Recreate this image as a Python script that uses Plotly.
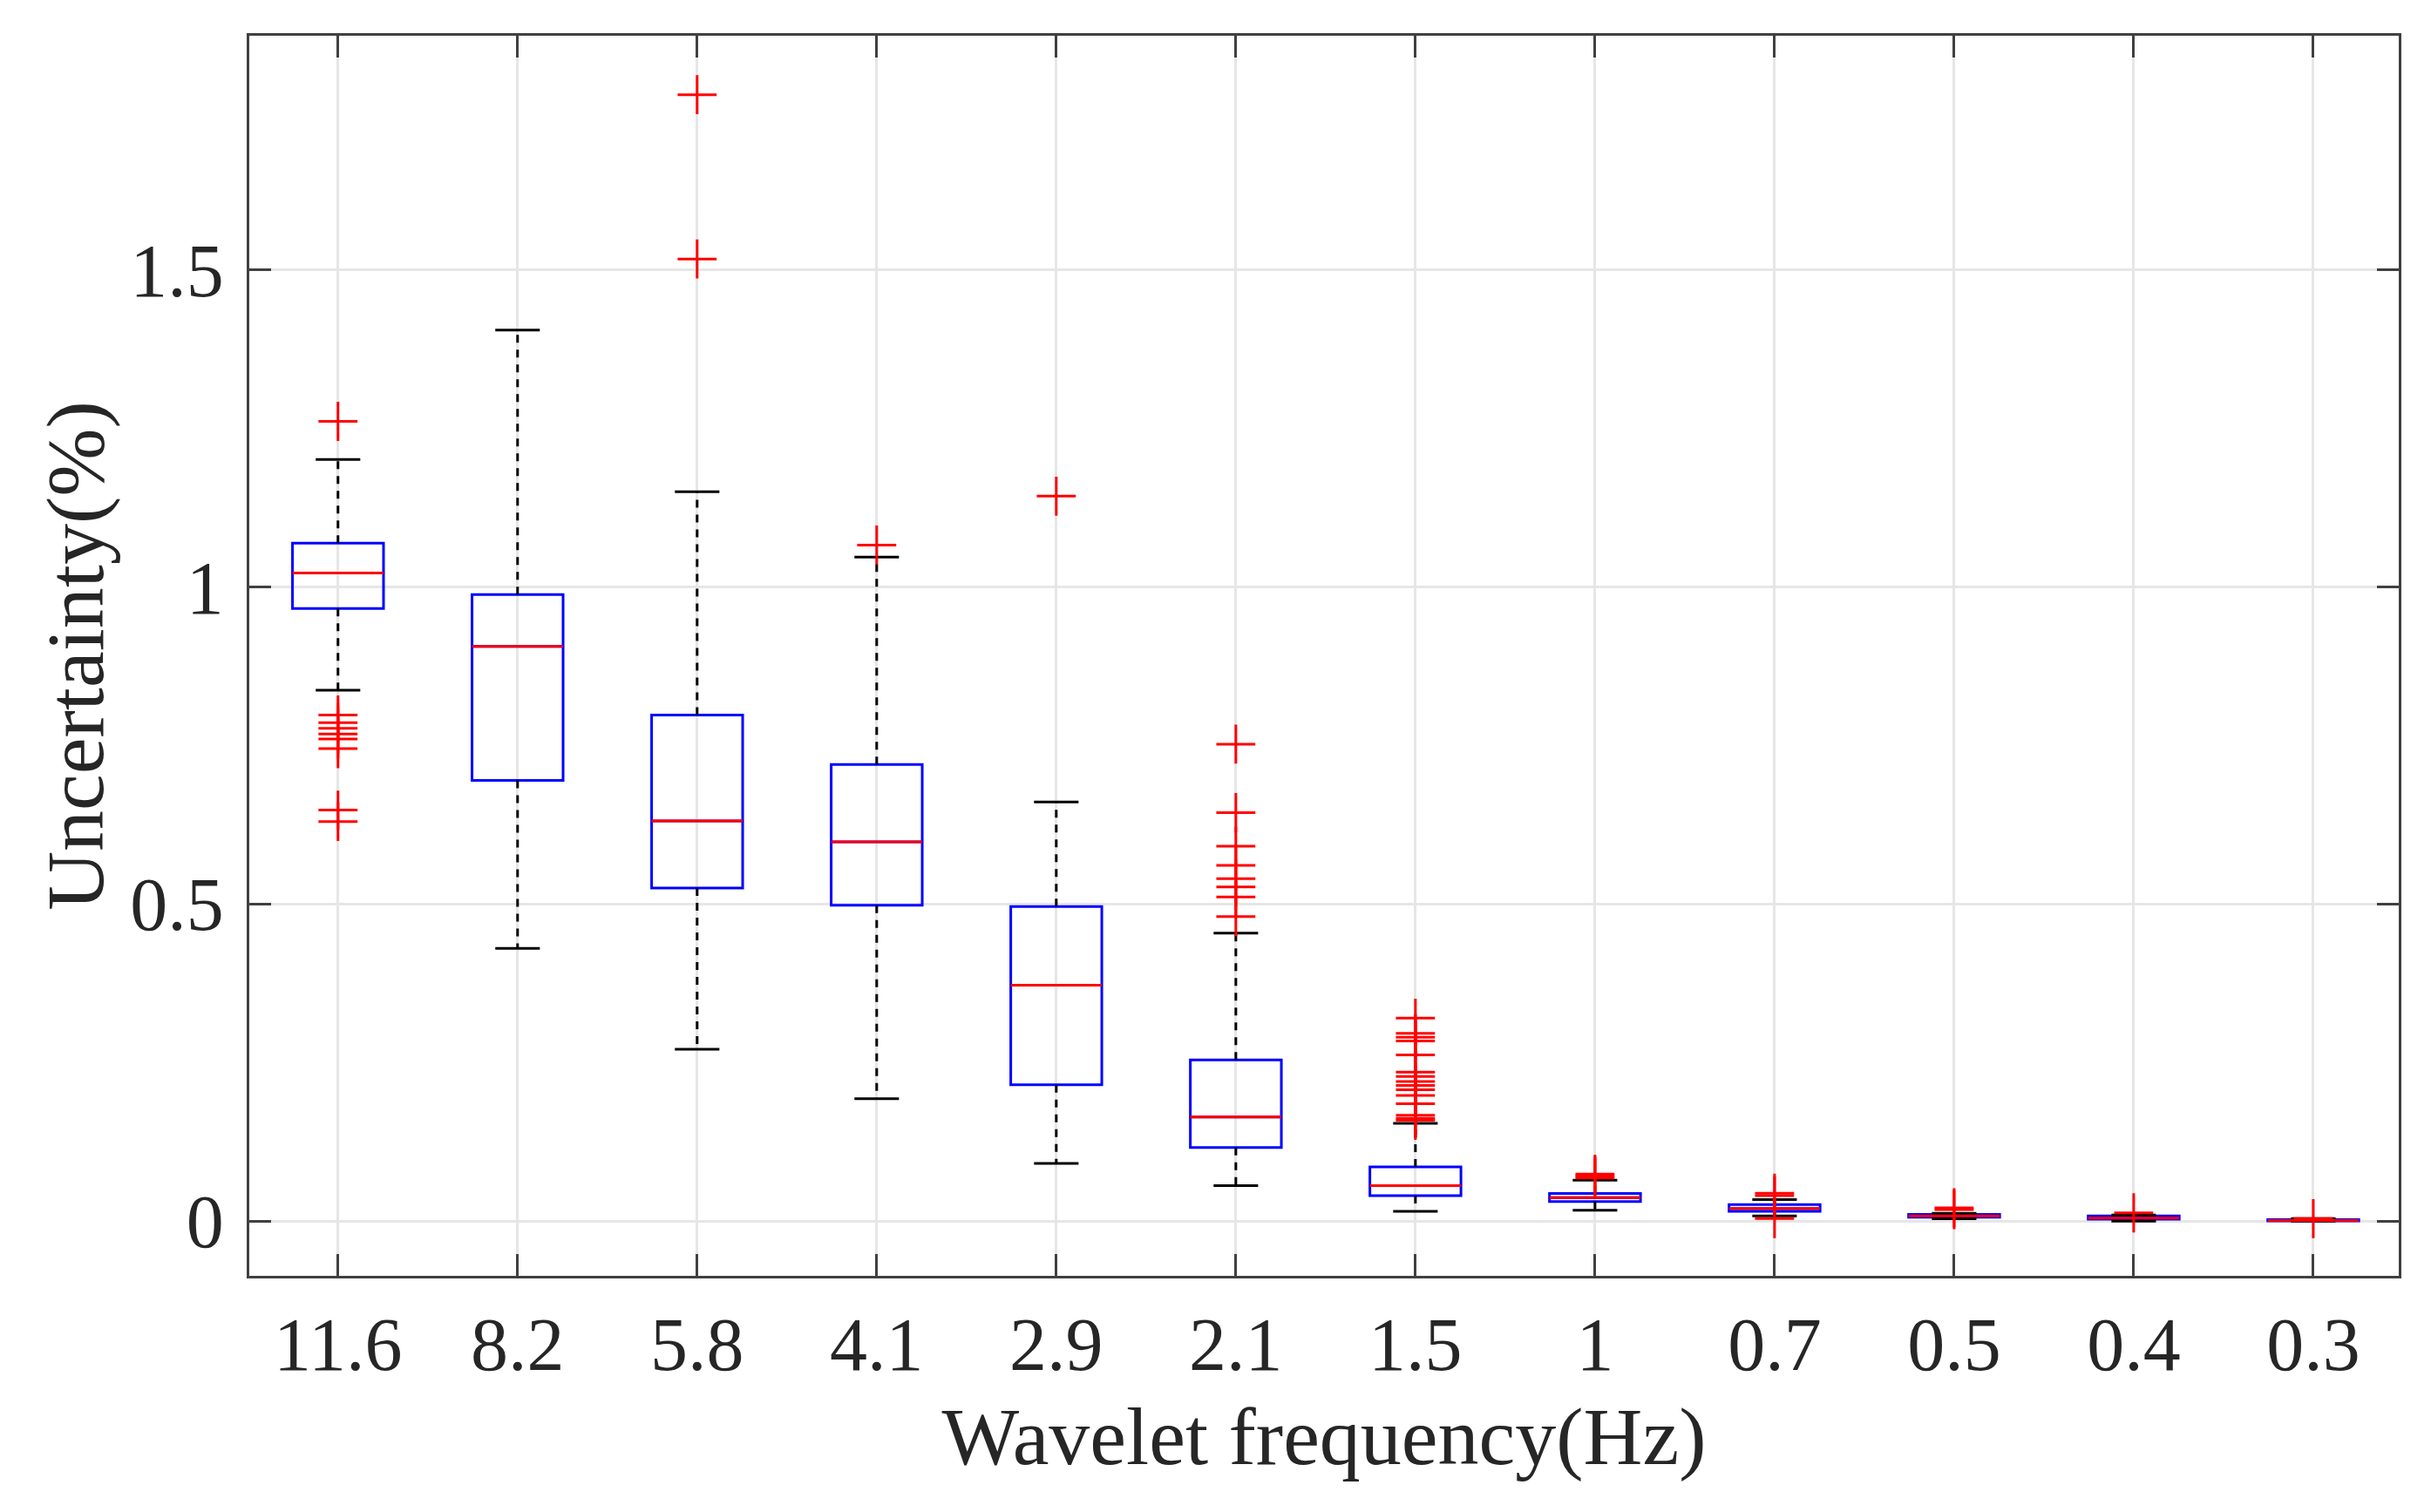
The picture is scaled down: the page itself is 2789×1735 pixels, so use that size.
import plotly.graph_objects as go

# wavelet frequency categories (Hz)
freq_labels = ['11.6', '8.2', '5.8', '4.1', '2.9', '2.1', '1.5', '1', '0.7', '0.5', '0.4', '0.3']

# box statistics (uncertainty, %)
upper_whisker = [1.201, 1.405, 1.150, 1.047, 0.661, 0.454, 0.154, 0.0644, 0.034, 0.0124, 0.0096, 0.0040]
q3 = [1.069, 0.988, 0.798, 0.720, 0.496, 0.254, 0.0856, 0.0434, 0.026, 0.0105, 0.0080, 0.0023]
median = [1.022, 0.906, 0.631, 0.598, 0.372, 0.164, 0.056, 0.037, 0.020, 0.0082, 0.0046, 0.0009]
q1 = [0.966, 0.695, 0.525, 0.498, 0.215, 0.116, 0.040, 0.031, 0.0155, 0.0060, 0.0030, 0.0001]
lower_whisker = [0.837, 0.430, 0.271, 0.193, 0.091, 0.056, 0.0153, 0.017, 0.008, 0.0037, 0.0, 0.0]

# outliers per category
outliers = [
    [1.261, 0.798, 0.786, 0.777, 0.768, 0.760, 0.745, 0.648, 0.630],
    [],
    [1.776, 1.517],
    [1.066],
    [1.143],
    [0.752, 0.644, 0.591, 0.561, 0.540, 0.527, 0.511, 0.480],
    [0.320, 0.296, 0.290, 0.284, 0.262, 0.235, 0.228, 0.220, 0.214, 0.207, 0.198, 0.185, 0.167, 0.162, 0.159],
    [0.074, 0.071, 0.068],
    [0.044, 0.040, 0.004],
    [0.021, 0.018],
    [0.013],
    [0.004],
]

pos = list(range(len(freq_labels)))
box_half = 0.2535
cap_half = 0.124

fig = go.Figure()

# blue boxes (whiskers drawn separately, MATLAB style)
fig.add_trace(go.Box(
    x=pos, q1=q1, median=median, q3=q3,
    lowerfence=q1, upperfence=q3,
    width=2 * box_half, whiskerwidth=0,
    line=dict(color='#0000ff', width=3),
    fillcolor='rgba(0,0,0,0)',
    boxpoints=False, hoverinfo='skip', showlegend=False,
))

# dashed whiskers
wx, wy = [], []
for i in pos:
    wx += [i, i, None, i, i, None]
    wy += [q3[i], upper_whisker[i], None, q1[i], lower_whisker[i], None]
fig.add_trace(go.Scatter(x=wx, y=wy, mode='lines',
                         line=dict(color='black', width=3, dash='9px,8px'),
                         showlegend=False, hoverinfo='skip'))

# whisker caps
cx, cy = [], []
for i in pos:
    cx += [i - cap_half, i + cap_half, None, i - cap_half, i + cap_half, None]
    cy += [upper_whisker[i], upper_whisker[i], None, lower_whisker[i], lower_whisker[i], None]
fig.add_trace(go.Scatter(x=cx, y=cy, mode='lines',
                         line=dict(color='black', width=3),
                         showlegend=False, hoverinfo='skip'))

# red medians
mx, my = [], []
for i in pos:
    mx += [i - box_half, i + box_half, None]
    my += [median[i], median[i], None]
fig.add_trace(go.Scatter(x=mx, y=my, mode='lines',
                         line=dict(color='#ff0000', width=3),
                         showlegend=False, hoverinfo='skip'))

# outliers as red plus signs
ox, oy = [], []
for i, vals in enumerate(outliers):
    for v in vals:
        ox.append(i)
        oy.append(v)
fig.add_trace(go.Scatter(x=ox, y=oy, mode='markers',
                         marker=dict(symbol='cross-thin', size=32,
                                     line=dict(color='#ff0000', width=3)),
                         showlegend=False, hoverinfo='skip'))

axis_font = dict(family='Liberation Serif, Times New Roman, serif', size=86, color='#262626')
title_font = dict(family='Liberation Serif, Times New Roman, serif', size=94, color='#262626')

# page body has an 8px margin, so the figure is shrunk by that amount
fig.update_layout(
    width=2781, height=1727,
    margin=dict(l=278, r=37, t=33, b=271),
    paper_bgcolor='white', plot_bgcolor='white',
    showlegend=False,
)
fig.update_xaxes(
    range=[-0.494, 11.476],
    tickmode='array', tickvals=pos, ticktext=freq_labels,
    tickfont=axis_font, ticklabelstandoff=2,
    title=dict(text='Wavelet frequency(Hz)', font=title_font, standoff=24),
    showgrid=True, gridcolor='#e6e6e6', gridwidth=3, zeroline=False,
    showline=True, linecolor='#404040', linewidth=3, mirror='ticks',
    ticks='inside', ticklen=25, tickwidth=3, tickcolor='#404040',
)
fig.update_yaxes(
    range=[-0.0863, 1.869],
    tickmode='array', tickvals=[0, 0.5, 1, 1.5], ticktext=['0', '0.5', '1', '1.5'],
    tickfont=axis_font, ticklabelstandoff=9,
    title=dict(text='Uncertainty(%)', font=title_font, standoff=0),
    showgrid=True, gridcolor='#e6e6e6', gridwidth=3, zeroline=False,
    showline=True, linecolor='#404040', linewidth=3, mirror='ticks',
    ticks='inside', ticklen=25, tickwidth=3, tickcolor='#404040',
)

fig.write_html('out.html')
